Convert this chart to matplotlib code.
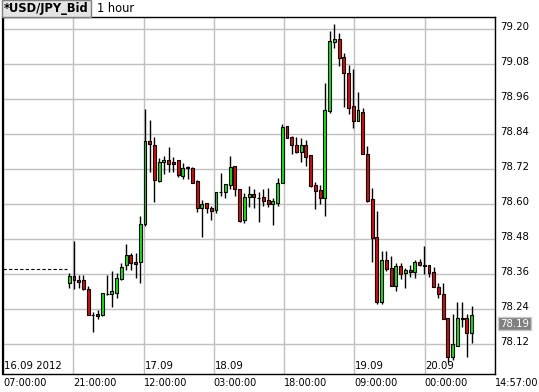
import numpy as np
import matplotlib.pyplot as plt
import matplotlib.transforms as mtransforms

# USD/JPY bid, 1 hour candles; first candle is 21:00 16.09 (14 h after the 07:00 start)
first_hour = 14
total_hours = 103.95   # 07:00 16.09 -> 14:57 20.09

opens = [78.329, 78.354, 78.341, 78.341, 78.309, 78.222, 78.223, 78.220, 78.291, 78.291,
         78.297, 78.344, 78.391, 78.426, 78.401, 78.403, 78.531, 78.818, 78.802, 78.681,
         78.744, 78.752, 78.745, 78.751, 78.696, 78.727, 78.723, 78.681, 78.586, 78.603,
         78.589, 78.581, 78.641, 78.641, 78.666, 78.730, 78.653, 78.546, 78.626, 78.634,
         78.622, 78.624, 78.615, 78.600, 78.603, 78.674, 78.869, 78.831, 78.803, 78.781,
         78.803, 78.769, 78.666, 78.650, 78.623, 78.920, 79.158, 79.167, 79.104, 79.049,
         78.937, 78.887, 78.918, 78.771, 78.618, 78.487, 78.266, 78.409, 78.381, 78.320,
         78.389, 78.363, 78.375, 78.367, 78.402, 78.391, 78.391, 78.367, 78.315, 78.293,
         78.209, 78.075, 78.115, 78.210, 78.209, 78.160]
highs = [78.363, 78.474, 78.358, 78.358, 78.320, 78.230, 78.238, 78.295, 78.358, 78.371,
         78.363, 78.398, 78.464, 78.432, 78.432, 78.560, 78.926, 78.889, 78.830, 78.760,
         78.767, 78.795, 78.761, 78.751, 78.741, 78.731, 78.727, 78.683, 78.615, 78.603,
         78.594, 78.641, 78.706, 78.669, 78.766, 78.730, 78.653, 78.638, 78.663, 78.653,
         78.641, 78.653, 78.656, 78.621, 78.689, 78.875, 78.869, 78.835, 78.831, 78.826,
         78.821, 78.769, 78.678, 78.666, 79.015, 79.195, 79.218, 79.186, 79.118, 79.078,
         79.064, 78.984, 78.929, 78.801, 78.655, 78.577, 78.440, 78.440, 78.423, 78.398,
         78.398, 78.381, 78.392, 78.409, 78.411, 78.457, 78.391, 78.386, 78.329, 78.329,
         78.209, 78.224, 78.266, 78.266, 78.224, 78.251]
lows = [78.312, 78.309, 78.312, 78.306, 78.221, 78.163, 78.207, 78.218, 78.290, 78.249,
        78.280, 78.341, 78.375, 78.375, 78.346, 78.331, 78.526, 78.712, 78.609, 78.678,
        78.704, 78.710, 78.712, 78.693, 78.686, 78.687, 78.672, 78.575, 78.487, 78.569,
        78.546, 78.569, 78.629, 78.623, 78.651, 78.629, 78.541, 78.535, 78.590, 78.586,
        78.541, 78.594, 78.592, 78.529, 78.595, 78.672, 78.826, 78.771, 78.775, 78.746,
        78.733, 78.661, 78.584, 78.600, 78.561, 78.912, 79.137, 79.075, 78.935, 78.909,
        78.861, 78.887, 78.771, 78.607, 78.403, 78.257, 78.257, 78.373, 78.321, 78.304,
        78.343, 78.312, 78.352, 78.349, 78.389, 78.360, 78.352, 78.315, 78.280, 78.208,
        78.061, 78.066, 78.115, 78.181, 78.075, 78.123]
closes = [78.354, 78.339, 78.335, 78.309, 78.221, 78.220, 78.218, 78.295, 78.292, 78.303,
          78.346, 78.384, 78.425, 78.398, 78.397, 78.531, 78.818, 78.806, 78.683, 78.744,
          78.752, 78.738, 78.737, 78.699, 78.723, 78.723, 78.672, 78.586, 78.600, 78.586,
          78.578, 78.641, 78.643, 78.669, 78.727, 78.653, 78.544, 78.626, 78.634, 78.624,
          78.621, 78.613, 78.601, 78.611, 78.672, 78.864, 78.826, 78.803, 78.781, 78.803,
          78.763, 78.664, 78.647, 78.623, 78.923, 79.160, 79.167, 79.103, 79.051, 78.931,
          78.887, 78.923, 78.771, 78.611, 78.486, 78.266, 78.409, 78.377, 78.321, 78.389,
          78.360, 78.375, 78.367, 78.402, 78.391, 78.390, 78.366, 78.315, 78.293, 78.208,
          78.078, 78.121, 78.209, 78.207, 78.160, 78.221]

prev_close = 78.38
last_bid = 78.19
y_ticks = [78.12, 78.24, 78.36, 78.48, 78.60, 78.72, 78.84, 78.96, 79.08, 79.20]
time_labels = ['07:00:00', '21:00:00', '12:00:00', '03:00:00', '18:00:00',
               '09:00:00', '00:00:00', '14:57:00']
date_labels = ['16.09 2012', '', '17.09', '18.09', '', '19.09', '20.09', '']

W, H = 539, 392
fig = plt.figure(figsize=(W / 100, H / 100), dpi=100)
ax = fig.add_axes([3 / W, (H - 373.5) / H, 492 / W, 356.7 / H])

o = np.array(opens)
c = np.array(closes)
x = first_hour + np.arange(len(o))
up = c >= o
cols = np.where(up, '#00f000', '#f00000')

ax.vlines(x, lows, highs, color='black', linewidth=1, zorder=2)
ax.bar(x, np.abs(c - o), bottom=np.minimum(o, c), width=0.62, color=cols,
       edgecolor='black', linewidth=0.8, zorder=3)

# flat line before the market opens
ax.plot([0, first_hour - 0.45], [prev_close, prev_close], color='black',
        linewidth=0.8, dashes=(3, 2))

xt = np.linspace(0, total_hours, len(time_labels))
ax.set_xlim(0, total_hours)
ax.set_ylim(78.02, 79.243)
ax.set_xticks(xt)
ax.set_xticklabels(time_labels, ha='left', fontsize=7)
ax.set_yticks(y_ticks)
ax.set_yticklabels(['%.2f' % v for v in y_ticks], fontsize=7.3)
ax.yaxis.tick_right()
ax.tick_params(axis='both', length=0)
ax.tick_params(axis='x', pad=3)
ax.tick_params(axis='y', pad=4)
ax.grid(True, color='#c0c0c0', linewidth=1)
ax.set_axisbelow(True)
for s in ax.spines.values():
    s.set_color('black')
    s.set_linewidth(1)
ax.spines['left'].set_linewidth(1.6)

shift = mtransforms.ScaledTranslation(0, 0.03, fig.dpi_scale_trans)
for lab in ax.get_yticklabels():
    lab.set_transform(lab.get_transform() + shift)

trans = mtransforms.blended_transform_factory(ax.transData, ax.transAxes)
for xv, d in zip(xt, date_labels):
    if d:
        ax.text(xv + 0.2, 0.02, d, transform=trans, fontsize=7.3, ha='left', va='center')

ax.text(1 + 5 / 492, last_bid, '%.2f' % last_bid, transform=ax.get_yaxis_transform(),
        fontsize=7.3, color='white', ha='left', va='center',
        bbox=dict(boxstyle='square,pad=0.15', facecolor='#808080', edgecolor='#c8c8c8', linewidth=1))

fig.text(4 / W, 1 - 8.5 / H, '*USD/JPY_Bid', fontsize=8.3, fontweight='bold', ha='left', va='center',
         bbox=dict(boxstyle='square,pad=0.2', facecolor='#e4e4e4', edgecolor='#808080', linewidth=1))
fig.text(97 / W, 1 - 8.5 / H, '1 hour', fontsize=8.3, ha='left', va='center')

fig.savefig('out.png', dpi=100)
